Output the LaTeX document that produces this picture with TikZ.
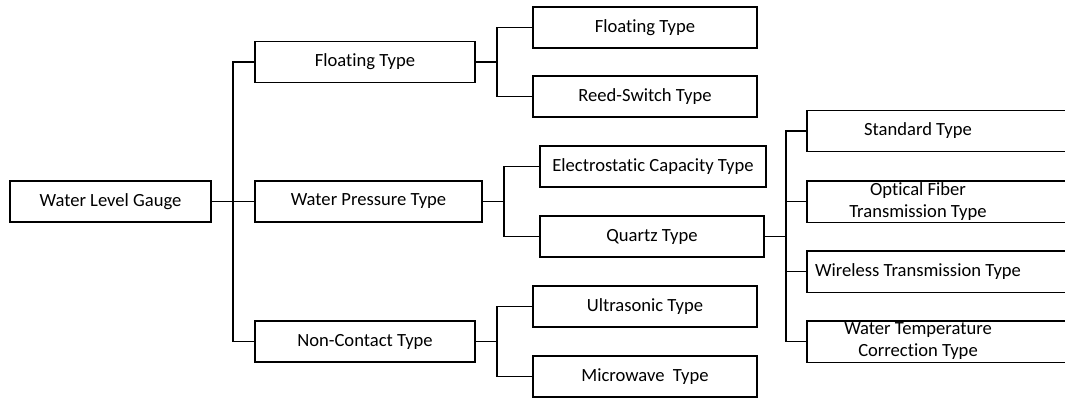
\documentclass[tikz,border=0pt]{standalone}
\usepackage{fontspec}
\setmainfont{Carlito}[Ligatures=NoCommon]
\begin{document}
\begin{tikzpicture}[x=1pt,y=-1pt,
  txt/.style={font=\fontsize{18.6}{22}\selectfont,align=center,inner sep=0pt},
  box/.style={txt,draw=black,line width=1.4pt,rectangle,minimum height=41pt},
  openbox/.style={txt,rectangle,minimum height=41pt,minimum width=263pt},
  wire/.style={draw=black,line width=1.4pt}]
\useasboundingbox (0,0) rectangle (1065,400);
\clip (0,0) rectangle (1065,400);
% level 0
\node[box,minimum width=201pt] (root) at (110.5,201.5) {Water Level Gauge};
% level 1
\node[box,minimum width=220pt] (fl) at (365,62) {Floating Type};
\node[box,minimum width=227pt] (wp) at (368.5,201.5) {Water Pressure Type};
\node[box,minimum width=220pt] (nc) at (365,341.5) {Non-Contact Type};
% level 2
\node[box,minimum width=224pt] (fl2) at (645,27.5) {Floating Type};
\node[box,minimum width=224pt] (rs) at (645,96.5) {Reed-Switch Type};
\node[box,minimum width=226pt] (ec) at (653,166.5) {Electrostatic Capacity Type};
\node[box,minimum width=224pt] (qz) at (652,236.5) {Quartz Type};
\node[box,minimum width=224pt] (us) at (645,306.5) {Ultrasonic Type};
\node[box,minimum width=224pt] (mw) at (645,376.5) {Microwave\ \ Type};
% level 3: boxes run past the right edge (no right border visible)
\node[openbox] (st) at (938.5,131) {};
\node[openbox] (of) at (938.5,201.5) {};
\node[openbox] (wl) at (938.5,271.5) {};
\node[openbox] (wt) at (938.5,341.5) {};
\foreach \b in {st,of,wl,wt}
  \draw[wire] (\b.north east) -- (\b.north west) -- (\b.south west) -- (\b.south east);
\node[txt] (stt) at (918,131) {Standard Type};
\node[txt] (oft) at (918,201.5) {Optical Fiber\\Transmission Type};
\node[txt] (wlt) at (918,271.5) {Wireless Transmission Type};
\node[txt] (wtt) at (918,341.5) {Water Temperature\\Correction Type};
% junctions
\coordinate (j0) at (233,201.5);
\coordinate (j1) at (497,62);
\coordinate (j2) at (504,201.5);
\coordinate (j3) at (497,341.5);
\coordinate (j4) at (786,236.5);
% connectors
\draw[wire] (root.east) -- (j0);
\draw[wire] (j0) |- (fl.west);
\draw[wire] (j0) -- (wp.west);
\draw[wire] (j0) |- (nc.west);
\draw[wire] (fl.east) -- (j1);
\draw[wire] (j1) |- (fl2.west);
\draw[wire] (j1) |- (rs.west);
\draw[wire] (wp.east) -- (j2);
\draw[wire] (j2) |- (ec.west);
\draw[wire] (j2) |- (qz.west);
\draw[wire] (nc.east) -- (j3);
\draw[wire] (j3) |- (us.west);
\draw[wire] (j3) |- (mw.west);
\draw[wire] (qz.east) -- (j4);
\draw[wire] (j4) |- (st.west);
\draw[wire] (j4) |- (of.west);
\draw[wire] (j4) |- (wl.west);
\draw[wire] (j4) |- (wt.west);
\end{tikzpicture}
\end{document}
